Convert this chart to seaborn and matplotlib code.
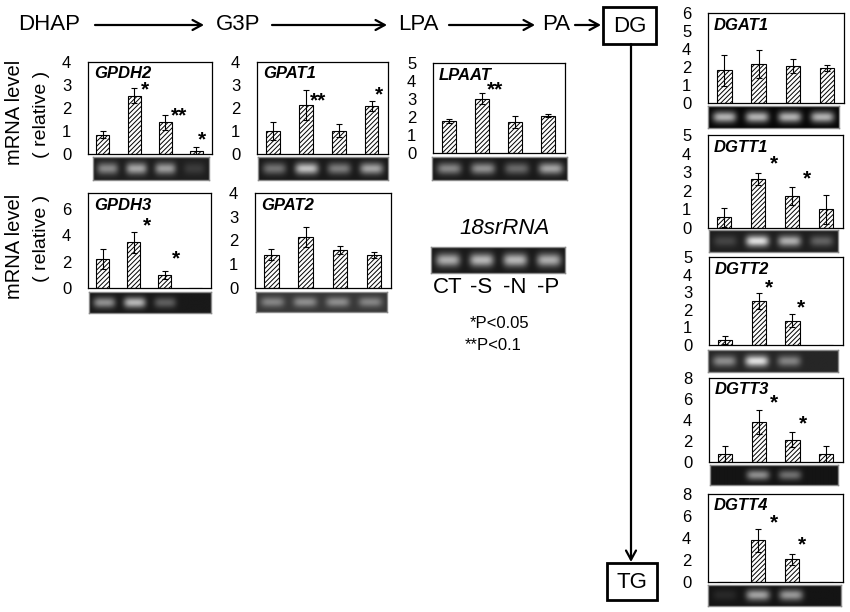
import numpy as np
import pandas as pd
import matplotlib
matplotlib.use('Agg')
import matplotlib.pyplot as plt
from matplotlib.patches import Rectangle
import seaborn as sns

sns.set_theme(style='white')
plt.rcParams['font.family'] = ['Liberation Sans', 'DejaVu Sans']
plt.rcParams['hatch.linewidth'] = 0.7
plt.rcParams['text.color'] = 'black'
plt.rcParams['ytick.color'] = 'black'
plt.rcParams['xtick.color'] = 'black'

# Conditions (lanes)
conditions = ['CT', '-S', '-N', '-P']

# relative mRNA level, error, significance marks, gel band brightness
gpdh2_mean = [0.83, 2.54, 1.37, 0.13]
gpdh2_err = [0.15, 0.34, 0.34, 0.16]
gpdh2_sig = ['', '*', '**', '*']
gpdh2_sig_y = [0, 2.8, 1.66, 0.61]
gpdh2_gel = [0.55, 0.7, 0.65, 0.15]

gpat1_mean = [0.98, 2.12, 1.02, 2.07]
gpat1_err = [0.39, 0.65, 0.28, 0.22]
gpat1_sig = ['', '**', '', '*']
gpat1_sig_y = [0, 2.32, 0, 2.58]
gpat1_gel = [0.45, 0.85, 0.5, 0.7]

lpaat_mean = [1.79, 3.02, 1.72, 2.07]
lpaat_err = [0.11, 0.30, 0.33, 0.08]
lpaat_sig = ['', '**', '', '']
lpaat_sig_y = [0, 3.5, 0, 0]
lpaat_gel = [0.55, 0.6, 0.4, 0.7]

gpdh3_mean = [2.19, 3.45, 0.96, 0.0]
gpdh3_err = [0.76, 0.83, 0.30, 0.0]
gpdh3_sig = ['', '*', '*', '']
gpdh3_sig_y = [0, 4.7, 2.2, 0]
gpdh3_gel = [0.6, 0.8, 0.35, 0.0]

gpat2_mean = [1.40, 2.14, 1.60, 1.40]
gpat2_err = [0.24, 0.43, 0.16, 0.13]
gpat2_sig = ['', '', '', '']
gpat2_sig_y = [0, 0, 0, 0]
gpat2_gel = [0.45, 0.5, 0.5, 0.45]

rrna_gel = [0.75, 0.8, 0.8, 0.75]

dgat1_mean = [1.81, 2.15, 2.06, 1.94]
dgat1_err = [0.88, 0.78, 0.40, 0.15]
dgat1_sig = ['', '', '', '']
dgat1_sig_y = [0, 0, 0, 0]
dgat1_gel = [0.8, 0.8, 0.8, 0.8]

dgtt1_mean = [0.59, 2.64, 1.71, 1.00]
dgtt1_err = [0.51, 0.33, 0.47, 0.80]
dgtt1_sig = ['', '*', '*', '']
dgtt1_sig_y = [0, 3.47, 2.66, 0]
dgtt1_gel = [0.2, 1.0, 0.75, 0.35]

dgtt2_mean = [0.28, 2.50, 1.38, 0.0]
dgtt2_err = [0.23, 0.47, 0.38, 0.0]
dgtt2_sig = ['', '*', '*', '']
dgtt2_sig_y = [0, 3.24, 2.1, 0]
dgtt2_gel = [0.55, 1.0, 0.5, 0.0]

dgtt3_mean = [0.76, 3.78, 2.13, 0.76]
dgtt3_err = [0.73, 1.14, 0.70, 0.73]
dgtt3_sig = ['', '*', '*', '']
dgtt3_sig_y = [0, 5.6, 3.6, 0]
dgtt3_gel = [0.0, 0.6, 0.45, 0.0]

dgtt4_mean = [0.0, 3.78, 2.08, 0.0]
dgtt4_err = [0.0, 1.02, 0.49, 0.0]
dgtt4_sig = ['', '*', '*', '']
dgtt4_sig_y = [0, 5.35, 3.38, 0]
dgtt4_gel = [0.1, 0.7, 0.65, 0.0]

W, H = 850, 612
fig = plt.figure(figsize=(W / 100, H / 100), dpi=100)


def px_rect(l, t, r, b):
    return [l / W, 1 - b / H, (r - l) / W, (b - t) / H]


# overlay in pixel coordinates for the pathway and labels
ov = fig.add_axes([0, 0, 1, 1])
ov.set_xlim(0, W)
ov.set_ylim(H, 0)
ov.axis('off')

arrow = dict(arrowstyle='->,head_length=0.55,head_width=0.3', lw=1.6, color='black',
             shrinkA=0, shrinkB=0)
for txt, x in [('DHAP', 49), ('G3P', 238), ('LPA', 418), ('PA', 556)]:
    ov.text(x, 25, txt, ha='center', va='center', fontsize=16)
for x0, x1 in [(95, 204), (272, 387), (449, 535), (575, 601)]:
    ov.annotate('', xy=(x1, 25), xytext=(x0, 25), arrowprops=arrow)
ov.add_patch(Rectangle((603, 7), 53, 37, fill=False, lw=2, ec='black'))
ov.text(629.5, 26, 'DG', ha='center', va='center', fontsize=16)
ov.annotate('', xy=(631, 562), xytext=(631, 44), arrowprops=arrow)
ov.add_patch(Rectangle((607, 563), 50, 37, fill=False, lw=2, ec='black'))
ov.text(632, 582, 'TG', ha='center', va='center', fontsize=16)

for yc1, yc2 in [(112, 114), (246, 238)]:
    ov.text(15, yc1, 'mRNA level', rotation=90, ha='center', va='center', fontsize=14.5)
    ov.text(42, yc2, '( relative )', rotation=90, ha='center', va='center', fontsize=14)

ov.text(505, 228, '18srRNA', ha='center', va='center', fontsize=16, fontstyle='italic')
ov.text(500, 323, '*P<0.05', ha='center', va='center', fontsize=12)
ov.text(493, 345, '**P<0.1', ha='center', va='center', fontsize=12)


def draw_bars(ax, name, mean, err, sig, sig_y, star_dx, ylim, yticks, yticklabels):
    df = pd.DataFrame({'cond': conditions, 'mean': mean})
    sns.barplot(data=df, x='cond', y='mean', ax=ax, color='white', saturation=1,
                edgecolor='black', linewidth=0.8, width=0.42, hatch='///////')
    x = np.arange(len(mean))
    e = np.array(err)
    m = e > 0
    ax.errorbar(x[m], np.array(mean)[m], yerr=e[m], fmt='none', ecolor='black',
                elinewidth=0.8, capsize=2.5, capthick=0.8)
    for xi, s, sy, dx in zip(x, sig, sig_y, star_dx):
        if s:
            ax.text(xi + dx, sy, s, ha='center', va='center', fontsize=15, fontweight='bold')
    ax.set_xlim(-0.48, 3.5)
    ax.set_ylim(*ylim)
    ax.set_xticks([])
    ax.set_yticks(yticks)
    ax.set_yticklabels(yticklabels)
    ax.set_xlabel('')
    ax.set_ylabel('')
    ax.tick_params(axis='y', direction='in', length=3, width=0.8, pad=12,
                   labelsize=12, colors='black')
    for sp in ax.spines.values():
        sp.set_visible(True)
        sp.set_color('black')
        sp.set_linewidth(0.9)
    ax.annotate(name, (0, 1), xycoords='axes fraction', xytext=(6, -12),
                textcoords='offset pixels', ha='left', va='center', fontsize=12,
                fontweight='bold', fontstyle='italic')


def draw_gel(ax, bands, bg):
    xs = np.linspace(-0.5, 3.5, 240)
    ys = np.linspace(0, 1, 40)
    vert = np.exp(-((ys - 0.5) / 0.26) ** 2)
    img = np.full((len(ys), len(xs)), bg)
    for i, b in enumerate(bands):
        horiz = np.exp(-((xs - i) / 0.36) ** 4)
        img += (1 - bg) * 0.85 * b * np.outer(vert, horiz)
    ax.imshow(np.clip(img, 0, 1), cmap='gray', vmin=0, vmax=1, aspect='auto',
              extent=[-0.5, 3.5, 0, 1], origin='lower', interpolation='bilinear')
    ax.set_xticks([])
    ax.set_yticks([])
    for sp in ax.spines.values():
        sp.set_color('#8a8a8a')
        sp.set_linewidth(1)


panels = [
    ('GPDH2', gpdh2_mean, gpdh2_err, gpdh2_sig, gpdh2_sig_y, [0, 0.34, 0.45, 0.18],
     (0, 4), range(5), None, (88, 62, 212, 154), (93, 157, 209, 180), gpdh2_gel, 0.12),
    ('GPAT1', gpat1_mean, gpat1_err, gpat1_sig, gpat1_sig_y, [0, 0.37, 0, 0.23],
     (0, 4), range(5), None, (257, 62, 388, 154), (258, 157, 388, 180), gpat1_gel, 0.1),
    ('LPAAT', lpaat_mean, lpaat_err, lpaat_sig, lpaat_sig_y, [0, 0.38, 0, 0],
     (0, 5), range(6), None, (433, 63, 565, 153), (432, 157, 567, 180), lpaat_gel, 0.1),
    ('GPDH3', gpdh3_mean, gpdh3_err, gpdh3_sig, gpdh3_sig_y, [0, 0.43, 0.37, 0],
     (0, 7.2), [0, 2, 4, 6], None, (88, 193, 211, 288), (89, 292, 211, 313), gpdh3_gel, 0.1),
    ('GPAT2', gpat2_mean, gpat2_err, gpat2_sig, gpat2_sig_y, [0, 0, 0, 0],
     (0, 4), range(5), None, (255, 193, 391, 288), (256, 292, 387, 312), gpat2_gel, 0.22),
    ('DGAT1', dgat1_mean, dgat1_err, dgat1_sig, dgat1_sig_y, [0, 0, 0, 0],
     (0, 5), range(6), ['0', '1', '2', '4', '5', '6'], (708, 13, 844, 103),
     (708, 106, 839, 128), dgat1_gel, 0.03),
    ('DGTT1', dgtt1_mean, dgtt1_err, dgtt1_sig, dgtt1_sig_y, [0, 0.46, 0.44, 0],
     (0, 5), range(6), None, (708, 135, 843, 228), (709, 230, 838, 252), dgtt1_gel, 0.12),
    ('DGTT2', dgtt2_mean, dgtt2_err, dgtt2_sig, dgtt2_sig_y, [0, 0.3, 0.26, 0],
     (0, 5), range(6), None, (709, 257, 843, 345), (708, 350, 838, 372), dgtt2_gel, 0.15),
    ('DGTT3', dgtt3_mean, dgtt3_err, dgtt3_sig, dgtt3_sig_y, [0, 0.46, 0.3, 0],
     (0, 8), [0, 2, 4, 6, 8], None, (709, 378, 843, 462), (710, 465, 838, 485), dgtt3_gel, 0.08),
    ('DGTT4', dgtt4_mean, dgtt4_err, dgtt4_sig, dgtt4_sig_y, [0, 0.46, 0.3, 0],
     (0, 8), [0, 2, 4, 6, 8], None, (708, 494, 843, 582), (708, 585, 841, 606), dgtt4_gel, 0.08),
]

for (name, mean, err, sig, sig_y, dx, ylim, yticks, ylabels, box, gbox, gel, bg) in panels:
    ax = fig.add_axes(px_rect(*box))
    yticks = list(yticks)
    if ylabels is None:
        ylabels = [str(t) for t in yticks]
    draw_bars(ax, name, mean, err, sig, sig_y, dx, ylim, yticks, ylabels)
    gax = fig.add_axes(px_rect(*gbox))
    draw_gel(gax, gel, bg)

# 18S rRNA loading control with lane labels
rax = fig.add_axes(px_rect(431, 247, 565, 273))
draw_gel(rax, rrna_gel, 0.1)
rax.set_xticks(range(len(conditions)))
rax.set_xticklabels(conditions, fontsize=16)
rax.tick_params(axis='x', length=0, pad=3, colors='black')

fig.savefig('out.png', dpi=100)
